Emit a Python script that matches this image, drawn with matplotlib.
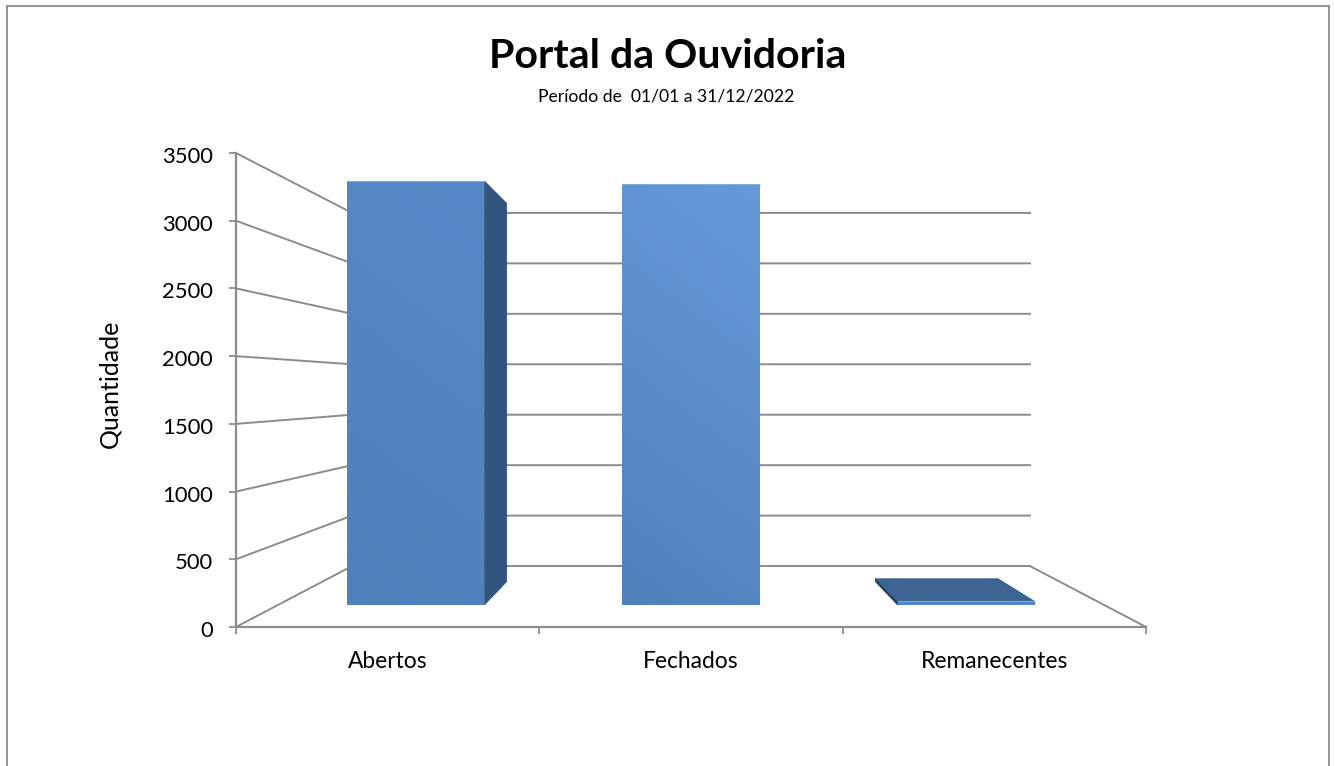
import numpy as np
import matplotlib
matplotlib.use("Agg")
import matplotlib.pyplot as plt
from matplotlib.patches import Polygon, Rectangle
from matplotlib.colors import LinearSegmentedColormap
from matplotlib.transforms import ScaledTranslation

categorias = ["Abertos", "Fechados", "Remanecentes"]
valores = [3448, 3424, 30]
y_ticks = [0, 500, 1000, 1500, 2000, 2500, 3000, 3500]

# perspectiva: escala por profundidade e ponto de fuga (unidades dos eixos)
FUGA_X, FUGA_Y = 1.5, 1765
S_FUNDO, S_BARRA_FRENTE, S_BARRA_TRAS = 0.745, 0.908, 0.81
LARGURA = 0.5
COR_LINHA = "#8c8c8c"
COR_LATERAL = "#32557f"
W, H = 1335, 766

plt.rcParams["font.family"] = ["Lato", "DejaVu Sans"]


def proj(x, y, s):
    return FUGA_X + (x - FUGA_X) * s, FUGA_Y + (y - FUGA_Y) * s


def barra_gradiente(ax, pts, cor_a, cor_b):
    """face frontal com gradiente diagonal, recortada pelo poligono"""
    xs, ys = zip(*pts)
    gx, gy = np.meshgrid(np.linspace(0, 1, 80), np.linspace(0, 1, 80))
    cmap = LinearSegmentedColormap.from_list("face", [cor_a, cor_b])
    im = ax.imshow(0.2 * gx + 0.8 * gy, extent=[min(xs), max(xs), min(ys), max(ys)], origin="lower",
                   cmap=cmap, vmin=0, vmax=1, aspect="auto", zorder=3)
    clip = Polygon(pts, closed=True, transform=ax.transData, fc="none", ec="none")
    ax.add_patch(clip)
    im.set_clip_path(clip)


fig = plt.figure(figsize=(W / 100, H / 100), dpi=100, facecolor="white")
ax = fig.add_axes([236 / W, 1 - 627 / H, 910 / W, 474 / H])
ax.set_xlim(0, 3)
ax.set_ylim(0, 3500)

# moldura do grafico (cortada embaixo)
fig.add_artist(Rectangle((6.5 / W, -0.05), 1322.5 / W, 1.05 - 6 / H, transform=fig.transFigure,
                         fc="none", ec=COR_LINHA, lw=1.3))

# grades: parede lateral e parede do fundo
for v in y_ticks:
    x0, y0 = proj(0, v, S_FUNDO)
    x1, y1 = proj(3, v, S_FUNDO)
    ax.plot([0, x0, x1], [v, y0, y1], color=COR_LINHA, lw=1.4, zorder=1, clip_on=False)
x1, y1 = proj(3, 0, S_FUNDO)
ax.plot([x1, 3], [y1, 0], color=COR_LINHA, lw=1.4, zorder=1, clip_on=False)

cores_face = [("#4f80bc", "#5789c8"), ("#4f81bd", "#6699d8"), ("#4f86cc", "#4f86cc")]
for i, v in enumerate(valores):
    esq, dir_ = i + 0.5 - LARGURA / 2, i + 0.5 + LARGURA / 2
    # vertices frontais e traseiros
    fe0, fe1 = proj(esq, 0, S_BARRA_FRENTE), proj(esq, v, S_BARRA_FRENTE)
    fd0, fd1 = proj(dir_, 0, S_BARRA_FRENTE), proj(dir_, v, S_BARRA_FRENTE)
    te0, te1 = proj(esq, 0, S_BARRA_TRAS), proj(esq, v, S_BARRA_TRAS)
    td0, td1 = proj(dir_, 0, S_BARRA_TRAS), proj(dir_, v, S_BARRA_TRAS)

    # laterais so aparecem do lado voltado para o centro
    if dir_ < FUGA_X:
        ax.add_patch(Polygon([fd0, fd1, td1, td0], fc=COR_LATERAL, ec=COR_LATERAL, lw=0.5, zorder=3.2))
    if esq > FUGA_X:
        ax.add_patch(Polygon([fe0, fe1, te1, te0], fc="#1f3a5f", ec=COR_LATERAL, lw=0.6, zorder=2.5))

    # topo so visivel abaixo do ponto de fuga
    if v < FUGA_Y:
        ax.add_patch(Polygon([fe1, fd1, td1, te1], fc="#3c6391", ec="none", zorder=2.6))

    face = [fe0, fe1, fd1, fd0]
    barra_gradiente(ax, face, *cores_face[i])
    ax.plot([fe1[0], fd1[0]], [fe1[1], fd1[1]], color="#8fb4e3", lw=0.8, alpha=0.7, zorder=3.5)

ax.set_xlim(0, 3)
ax.set_ylim(0, 3500)
ax.patch.set_alpha(0)

for lado in ["top", "right"]:
    ax.spines[lado].set_visible(False)
for lado in ["left", "bottom"]:
    ax.spines[lado].set_color(COR_LINHA)
    ax.spines[lado].set_linewidth(1.6)
    ax.spines[lado].set_zorder(0.5)

ax.set_yticks(y_ticks)
ax.set_xticks([0, 1, 2, 3])
ax.set_xticklabels([])
ax.set_xticks([i + 0.5 for i in range(len(categorias))], labels=categorias, minor=True)
ax.tick_params(axis="x", which="minor", length=0, pad=17, labelsize=16.4)
ax.tick_params(axis="x", which="major", length=5, width=1.3, color=COR_LINHA)
ax.tick_params(axis="y", length=5, width=1.3, color=COR_LINHA, pad=11.5, labelsize=15.8)

# rotulos do eixo y um pouco abaixo, como na referencia
desce = ScaledTranslation(0, -2 / 72 * 0.72, fig.dpi_scale_trans)
for lbl in ax.get_yticklabels():
    lbl.set_transform(lbl.get_transform() + desce)

fig.text(110 / W, 1 - 384 / H, "Quantidade", rotation=90, ha="center", va="center", fontsize=18)
fig.text(667.5 / W, 1 - 56 / H, "Portal da Ouvidoria", ha="center", va="center", fontsize=29.6, fontweight="bold")
fig.text(666 / W, 1 - 97 / H, "Período de  01/01 a 31/12/2022", ha="center", va="center", fontsize=12.6)

fig.savefig("out.png", dpi=100, facecolor="white")
